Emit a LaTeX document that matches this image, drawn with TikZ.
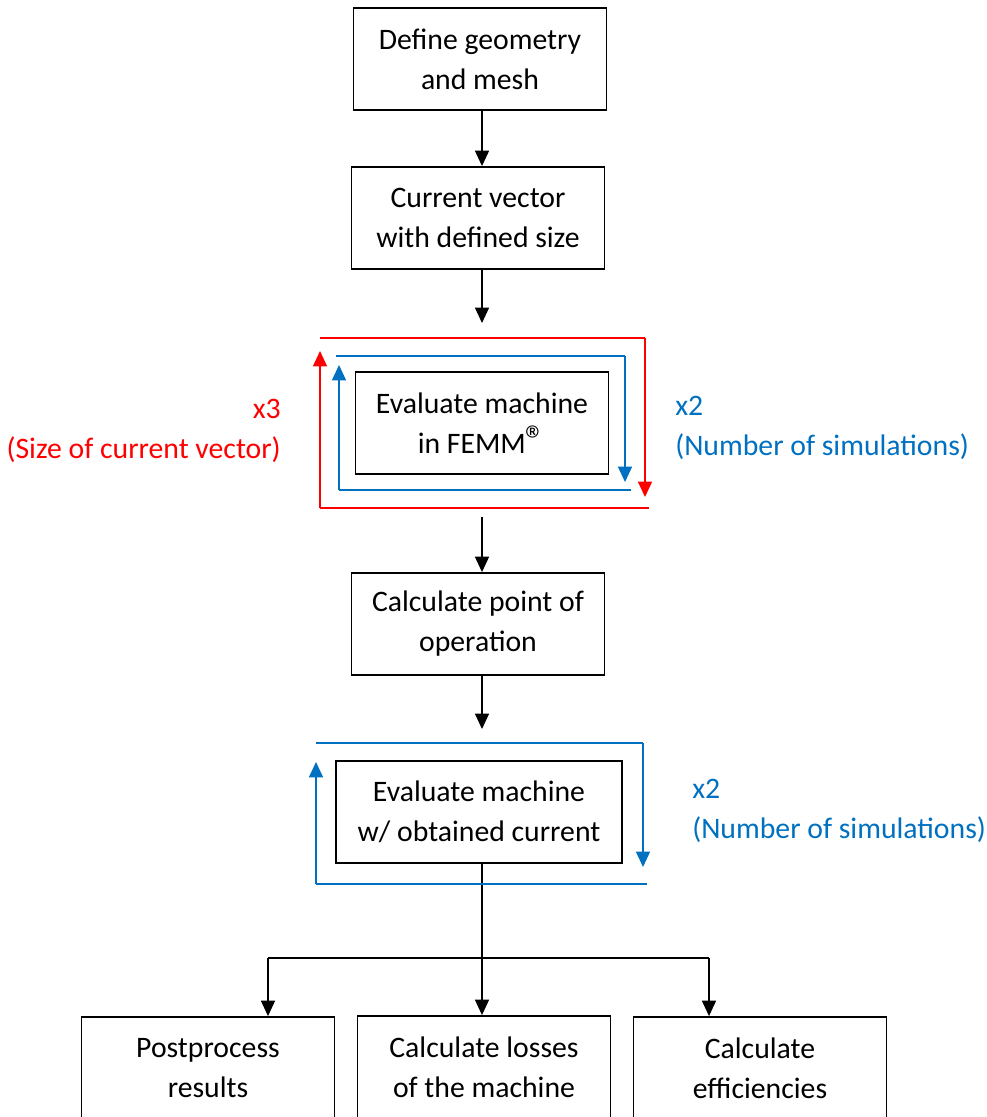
\documentclass[tikz,border=0pt]{standalone}
\usepackage{fontspec}
\setmainfont{Carlito}
\usetikzlibrary{arrows.meta}
\definecolor{loopred}{RGB}{255,0,0}
\definecolor{loopblue}{RGB}{0,112,192}
\tikzset{
  box/.style={draw, line width=1.4pt, minimum width=189.75pt, minimum height=76.5pt, align=center, inner sep=0pt, font=\fontsize{22.3}{30}\selectfont},
  arr/.style={line width=0.9pt, -{Triangle[width=10.5pt,length=11.5pt]}},
  loopline/.style={line width=1pt},
  looparr/.style={line width=1pt, -{Triangle[width=10.5pt,length=11.5pt]}},
  looplabel/.style={inner sep=0pt, font=\fontsize{22.3}{30}\selectfont}
}
\begin{document}
\begin{tikzpicture}[x=0.75pt,y=0.75pt,yscale=-1,xscale=1]
\useasboundingbox (0,0) rectangle (986,1117);

%Shape: Rectangle [id:geom]
\node [box] (geom) at (480,59) {Define geometry\\and mesh};
%Shape: Rectangle [id:cvec]
\node [box] (cvec) at (478,218) {Current vector\\with defined size};
%Shape: Rectangle [id:evalfemm]
\node [box] (evalfemm) at (482,423) {Evaluate machine\\in FEMM{\fontsize{30}{30}\selectfont ®}};
%Shape: Rectangle [id:oppoint]
\node [box] (oppoint) at (478,624) {Calculate point of\\operation};
%Shape: Rectangle [id:evalcur]
\node [box, minimum width=214.5pt] (evalcur) at (479,812) {Evaluate machine\\w/ obtained current};
%Shape: Rectangle [id:post]
\node [box] (post) at (208,1068) {Postprocess\\results};
%Shape: Rectangle [id:losses]
\node [box] (losses) at (484,1067) {Calculate losses\\of the machine};
%Shape: Rectangle [id:eff]
\node [box] (eff) at (760,1068) {Calculate\\efficiencies};

\coordinate (loopin) at (482,323);
\coordinate (loopout) at (482,517);
\coordinate (loopin2) at (482,729);
\coordinate (brL) at (268,958);
\coordinate (brR) at (709,958);

%Straight Lines
\draw [arr] (geom.south -| 482,0) -- (cvec.north -| 482,0);
\draw [arr] (cvec.south -| 482,0) -- (loopin);
\draw [arr] (loopout) -- (oppoint.north -| 482,0);
\draw [arr] (oppoint.south -| 482,0) -- (loopin2);
\draw [arr] (evalcur.south -| 482,0) -- (losses.north -| 482,0);
\draw [line width=0.9pt] (brL) -- (brR);
\draw [arr] (brL) -- (brL |- post.north);
\draw [arr] (brR) -- (brR |- eff.north);

%Red loop (size of current vector)
\draw [loopline, color=loopred] (320,338) -- (645,338);
\draw [looparr, color=loopred] (645,338) -- (645,497);
\draw [loopline, color=loopred] (649,508) -- (320,508);
\draw [looparr, color=loopred] (320,508) -- (320,351);

%Blue loop (number of simulations)
\draw [loopline, color=loopblue] (336,356) -- (625,356);
\draw [looparr, color=loopblue] (625,356) -- (625,482);
\draw [loopline, color=loopblue] (631,490) -- (339,490);
\draw [looparr, color=loopblue] (339,490) -- (339,365);

%Blue loop (second evaluation)
\draw [loopline, color=loopblue] (316,743) -- (643,743);
\draw [looparr, color=loopblue] (643,743) -- (643,867);
\draw [loopline, color=loopblue] (647,884) -- (316,884);
\draw [looparr, color=loopblue] (316,884) -- (316,762);

% Text Node
\node [looplabel, anchor=east, align=right, color=loopred] (redlabel) at (281,431) {x3\\(Size of current vector)};
% Text Node
\node [looplabel, anchor=west, align=left, color=loopblue] (bluelabel) at (675,428) {x2\\(Number of simulations)};
% Text Node
\node [looplabel, anchor=west, align=left, color=loopblue] (bluelabelb) at (692,811) {x2\\(Number of simulations)};

\end{tikzpicture}
\end{document}
